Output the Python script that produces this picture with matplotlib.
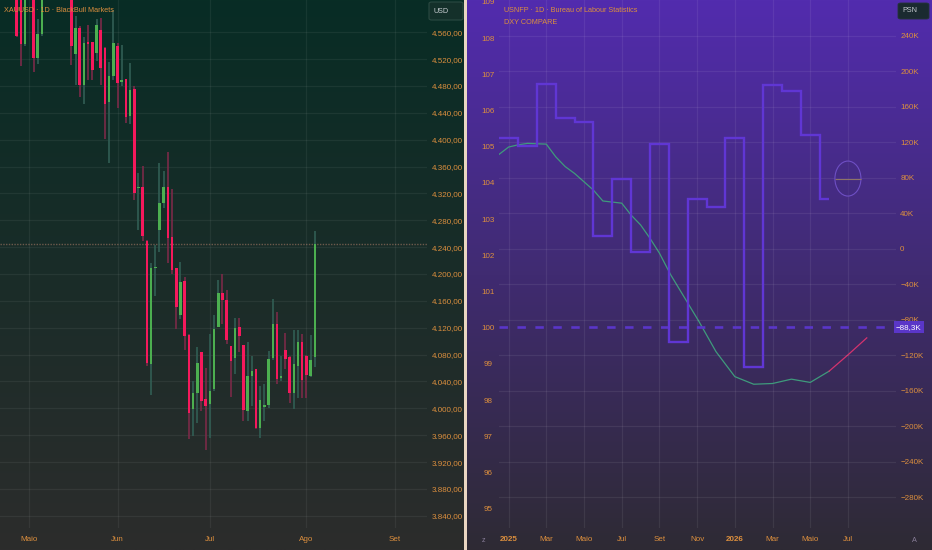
import numpy as np
import matplotlib
matplotlib.use('Agg')
import matplotlib.pyplot as plt
import matplotlib.transforms as mtransforms
from matplotlib import font_manager
from matplotlib.patches import Ellipse, FancyBboxPatch

# ---- XAUUSD daily candles (x = trading-day index) ----
opens = [4625, 4635, 4543, 4630, 4640, 4522, 4557, 4625, 4670, 4650, 4690, 4660,
         4645, 4630, 4527.5, 4567, 4481, 4545.5, 4545, 4529.5, 4563.5, 4537, 4456,
         4494.5, 4539.5, 4486, 4490, 4435, 4476, 4328.5, 4329.5, 4248.5, 4066, 4209,
         4265, 4306, 4330, 4254.5, 4208.5, 4138.5, 4190, 4109.5, 3998.5, 4023.5,
         4083.5, 4013.5, 4006, 4028.5, 4121, 4172, 4162, 4092.5, 4074.5, 4121,
         4094.5, 3996, 4048.5, 4058.5, 3971, 4002.5, 4004.5, 4075, 4126, 4044.5,
         4087.5, 4077, 4022.5, 4063.5, 4099.5, 4078.5, 4048.5, 4076]
highs = [4640, 4650, 4660, 4680, 4670, 4580, 4640, 4690, 4710, 4700, 4720, 4680,
         4670, 4650, 4583.5, 4570, 4553.5, 4571, 4546, 4579.5, 4581, 4538, 4516,
         4593.5, 4543.5, 4541, 4491, 4514.5, 4479.5, 4351, 4361, 4250, 4217, 4243.5,
         4366, 4353.5, 4381, 4327, 4209, 4218.5, 4196, 4110, 4040, 4091,
         4084, 4059.5, 4111, 4139.5, 4191, 4199.5, 4176, 4093, 4134.5, 4134.5,
         4095, 4098.5, 4078.5, 4059, 4033.5, 4036, 4086, 4162.5, 4143.5, 4078.5,
         4112.5, 4078, 4116, 4116, 4111, 4079, 4109.5, 4264.5]
lows = [4553, 4510, 4540, 4612, 4501, 4513, 4555, 4615, 4640, 4625, 4650, 4620,
        4615, 4511, 4481, 4463.5, 4453.5, 4488.5, 4488.5, 4517, 4481, 4401, 4366,
        4488.5, 4447.5, 4480, 4425, 4423.5, 4309.5, 4266, 4248.5, 4063.5, 4019.5, 4167.5,
        4233.5, 4298.5, 4216, 4199.5, 4118.5, 4133.5, 4087.5, 3954.5, 3958.5, 3978.5,
        3996, 3937.5, 3956, 4026, 4121, 4126, 4096, 4017.5, 4051, 4083.5,
        3981, 3981, 4003.5, 3968.5, 3956, 3981, 4001, 4072.5, 4036, 4041,
        4058.5, 4007.5, 3998.5, 4016, 4016, 4016, 4046, 4062]
closes = [4555, 4543, 4630, 4655, 4522, 4557, 4625, 4670, 4650, 4690, 4660, 4645,
          4630, 4540, 4566, 4481, 4544.5, 4543, 4503.5, 4571, 4507, 4453.5, 4494.5,
          4543.5, 4484.5, 4489, 4433.5, 4474.5, 4321, 4330, 4257, 4067.5, 4209.5, 4210.5,
          4306, 4329.5, 4253.5, 4206, 4151, 4188.5, 4107, 3993.5, 4022.5, 4067.5,
          4011, 4003.5, 4026, 4117.5, 4171, 4161, 4101, 4071, 4119.5, 4107.5,
          3997, 4048.5, 4056, 3971, 4012.5, 4004.5, 4073.5, 4126, 4043.5, 4048.5,
          4073.5, 4023.5, 4066, 4098.5, 4042.5, 4049.5, 4072.5, 4244.5]
gold_last = 4244.5
gold_ticks = list(range(3840, 4561, 40))
gold_month_pos = [3, 24, 46, 69, 90]
gold_month_lbl = ['Maio', 'Jun', 'Jul', 'Ago', 'Set']

# ---- USNFP monthly change (K), month 0 = Jan 2025 ----
nfp_month = list(range(18))
nfp_value = [125, 116, 185, 147, 143, 14, 79, -4, 118, -105, 56, 47,
             125, -133, 184, 178, 128, 56]
nfp_last = -88.3
nfp_next_month = 18
nfp_next_value = 79
nfp_ticks = list(range(-280, 241, 40))

# ---- DXY compare ----
dxy_month = [-0.5, 0, 0.5, 1, 2, 2.5, 3, 3.5, 4.5, 5, 6, 6.5, 7, 7.5, 8, 8.6,
             10.1, 11, 12, 13, 14, 15, 16, 17, 18, 19]
dxy_value = [104.79, 104.99, 105.05, 105.09, 105.07, 104.72, 104.45, 104.26,
             103.80, 103.50, 103.44, 103.11, 102.84, 102.47, 102.06, 101.46,
             100.17, 99.34, 98.65, 98.44, 98.46, 98.58, 98.49, 98.80, 99.25, 99.72]
dxy_split = 23
dxy_ticks = list(range(95, 110))
right_month_pos = [0, 2, 4, 6, 8, 10, 12, 14, 16, 18]
right_month_lbl = ['2025', 'Mar', 'Maio', 'Jul', 'Set', 'Nov', '2026', 'Mar', 'Maio', 'Jul']

# ---- fonts ----
names = {f.name for f in font_manager.fontManager.ttflist}
if 'Liberation Sans Narrow' in names:
    FONT, k = 'Liberation Sans Narrow', 1.0
else:
    FONT, k = 'Liberation Sans', 0.88
plt.rcParams['font.family'] = [FONT, 'DejaVu Sans']
TICK = 6.5 * k
TITLE = 5.9 * k
ORANGE = '#dc8f3e'

W, H = 932, 550


def fx(px):
    return px / W


def fy(py):
    return 1 - py / H


def rgb(c):
    return np.array(c) / 255.0


def gradient(rect, top, bottom):
    bg = fig.add_axes(rect)
    t = np.linspace(0, 1, 256)[:, None]
    arr = rgb(top) * (1 - t) + rgb(bottom) * t
    bg.imshow(arr.reshape(256, 1, 3), aspect='auto', extent=[0, 1, 0, 1])
    bg.set_axis_off()
    return bg


fig = plt.figure(figsize=(W / 100, H / 100), dpi=100)
fig.patch.set_facecolor('#ead6c2')

gradient([0, 0, fx(464), 1], (8, 45, 37), (44, 44, 44))
gradient([fx(467), 0, 1 - fx(467), 1], (82, 44, 174), (46, 42, 52))

# ================= left: XAUUSD candles =================
ax = fig.add_axes([0, 22 / H, fx(427), 528 / H])
ax.set_facecolor('none')
x = np.arange(len(opens))
o, h, l, c = map(np.array, (opens, highs, lows, closes))
up = c >= o
body_col = np.where(up, '#4caf50', '#f5195c')
wick_col = np.where(up, '#315e54', '#7a2a48')
ax.vlines(x, l, h, colors=wick_col, lw=1.2, zorder=2)
ax.bar(x, np.maximum(np.abs(c - o), 1.2), bottom=np.minimum(o, c), width=0.58,
       color=body_col, zorder=3)
ax.axhline(gold_last, color='#6e5a4c', lw=1, ls=(0, (1, 1)), zorder=1)

ax.set_xlim(-3.98, 97.7)
ax.set_ylim(3821.8, 4608)
ax.yaxis.tick_right()
ax.set_yticks(gold_ticks)
ax.set_yticklabels([f'{v:,.2f}'.replace(',', 'X').replace('.', ',').replace('X', '.')
                    for v in gold_ticks])
ax.set_xticks(gold_month_pos, gold_month_lbl)
ax.tick_params(axis='y', length=0, pad=3.2, labelsize=TICK, labelcolor=ORANGE)
ax.tick_params(axis='x', length=0, pad=5.5, labelsize=TICK, labelcolor=ORANGE)
ax.grid(True, color='white', alpha=0.06, lw=0.9)
for s in ax.spines.values():
    s.set_visible(False)

fig.text(fx(4), fy(11), 'XAUUSD · 1D · BlackBull Markets', color=ORANGE,
         fontsize=TITLE, va='center', ha='left')
fig.patches.append(FancyBboxPatch((fx(429), fy(20)), fx(34), 18 / H,
                                  boxstyle='round,pad=0,rounding_size=0.003',
                                  transform=fig.transFigure, fc='#14302a',
                                  ec='#2b4a42', lw=0.8))
fig.text(fx(434), fy(11.5), 'USD', color='#c6ccd0', fontsize=TITLE,
         va='center', ha='left')

# ================= right: USNFP vs DXY =================
ax_r = fig.add_axes([fx(499), 22 / H, fx(397), 528 / H])
ax_r.set_facecolor('none')
ax_n = ax_r.twinx()

ax_r.plot(dxy_month[:dxy_split + 1], dxy_value[:dxy_split + 1], color='#3f9a7c',
          lw=0.9, zorder=4)
ax_r.plot(dxy_month[dxy_split:], dxy_value[dxy_split:], color='#d4336e', lw=0.9,
          zorder=4)

edges = np.append(np.array(nfp_month) - 0.5, nfp_month[-1])
ax_n.stairs(nfp_value, edges, baseline=None, color='#6036d4', lw=1.7, zorder=3)
ax_n.axhline(nfp_last, color='#5a36c8', lw=1.9, ls=(0, (3.2, 3.6)), zorder=2)
ax_n.add_patch(Ellipse((nfp_next_month, nfp_next_value), width=1.38, height=39.4,
                       fc=(0.26, 0.17, 0.50, 0.45), ec='#6e4fc4', lw=0.8, zorder=3))
ax_n.hlines(nfp_next_value, nfp_next_month - 0.69, nfp_next_month + 0.69,
            color='#8e7468', lw=0.8, zorder=4)

ax_r.set_xlim(-0.51, 20.55)
ax_r.set_ylim(94.47, 109.05)
ax_n.set_ylim(-314.7, 280.2)

ax_r.set_yticks(dxy_ticks, [str(v) for v in dxy_ticks])
ax_r.tick_params(axis='y', length=0, pad=7.6, labelsize=TICK, labelcolor=ORANGE)
for lbl in ax_r.get_yticklabels():
    lbl.set_horizontalalignment('center')
ax_r.set_xticks(right_month_pos, right_month_lbl)
ax_r.tick_params(axis='x', length=0, pad=5.5, labelsize=TICK, labelcolor=ORANGE)
for lbl in ax_r.get_xticklabels():
    if lbl.get_text().startswith('20'):
        lbl.set_fontweight('bold')
ax_r.grid(True, axis='x', color='white', alpha=0.07, lw=0.9)

ax_n.set_yticks(nfp_ticks, [('\u2212' if v < 0 else '') + (f'{abs(v)}K' if v else '0')
                            for v in nfp_ticks])
ax_n.tick_params(axis='y', length=0, pad=3, labelsize=TICK, labelcolor=ORANGE)
ax_n.grid(True, axis='y', color='white', alpha=0.07, lw=0.9)
for a in (ax_r, ax_n):
    for s in a.spines.values():
        s.set_visible(False)

blend = mtransforms.blended_transform_factory(ax_n.transAxes, ax_n.transData)
ax_n.text(1.0, nfp_last, '\u221288,3K', transform=blend, ha='left', va='center',
          color='white', fontsize=TICK, zorder=6, clip_on=False,
          bbox=dict(boxstyle='square,pad=0.3', fc='#5a36c8', ec='none'))

fig.text(fx(504), fy(11), 'USNFP · 1D · Bureau of Labour Statistics', color=ORANGE,
         fontsize=TITLE, va='center', ha='left')
fig.text(fx(504), fy(22.5), 'DXY COMPARE', color=ORANGE, fontsize=TITLE,
         va='center', ha='left')
fig.patches.append(FancyBboxPatch((fx(898), fy(19)), fx(31), 16 / H,
                                  boxstyle='round,pad=0,rounding_size=0.003',
                                  transform=fig.transFigure, fc='#1a2a30',
                                  ec='#24343a', lw=0.6))
fig.text(fx(902), fy(11), 'PSN', color='#c6ccd0', fontsize=TITLE, va='center',
         ha='left')
fig.text(fx(484), fy(540), 'z', color='#8a7f9a', fontsize=TITLE, va='center',
         ha='center')
fig.text(fx(914), fy(540), 'A', color='#8a7f9a', fontsize=TITLE, va='center',
         ha='center')

fig.savefig('out.png', dpi=100, facecolor=fig.get_facecolor())
